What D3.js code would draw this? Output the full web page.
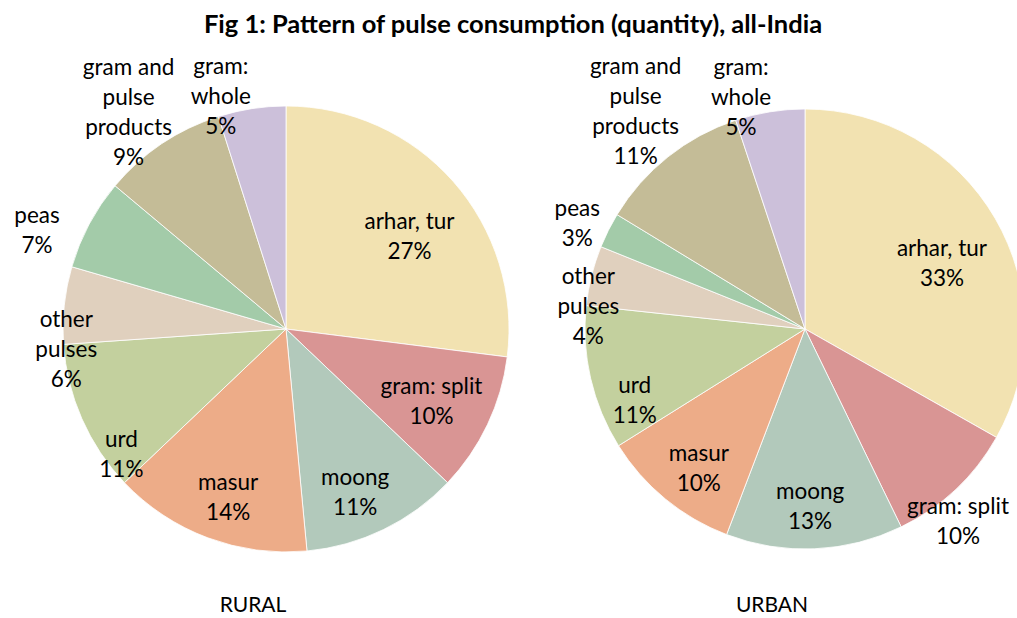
<!DOCTYPE html>
<html>
<head>
<meta charset="utf-8">
<script src="https://cdn.jsdelivr.net/npm/d3@7"></script>
<style>
  body { margin: 0; background: #fff; }
  svg text { font-family: Lato, "Open Sans", sans-serif; fill: #000; }
</style>
</head>
<body>
<div id="chart"></div>
<script>
// pulse categories, in slice order (clockwise from 12 o'clock)
var categories = ['arhar, tur', 'gram: split', 'moong', 'masur', 'urd',
	'other\npulses', 'peas', 'gram and\npulse\nproducts', 'gram:\nwhole']

// share of quantity, percent
var ruralValues = [27.0, 10.1, 11.4, 14.4, 11.0, 5.6, 6.6, 9.0, 4.9]
var urbanValues = [33.2, 9.6, 13.0, 10.3, 10.6, 4.4, 2.6, 11.2, 5.1]

var pieTitles = ['RURAL', 'URBAN']
var chartTitle = 'Fig 1: Pattern of pulse consumption (quantity), all-India'

var colors = ['#f2e2b1', '#d99594', '#b2c9bb', '#edac88', '#c3d09e',
	'#e0d0be', '#a3cba9', '#c4bc97', '#ccc0da']

// label placement: [degrees off the slice bisector, distance as share of radius]
var ruralLabelPos = [[4.8, 0.69], [1.3, 0.73], [3.1, 0.80], [-1.6, 0.80], [-13.7, 0.93],
	[-11.7, 0.99], [-6.6, 1.2], [-2.2, 1.2], [-6.9, 1.08]]
var urbanLabelPos = [[4.7, 0.69], [4.8, 1.12], [0.9, 0.81], [-2.3, 0.80], [-9.9, 0.84],
	[-8.2, 0.99], [-1.9, 1.14], [0.5, 1.25], [-6.3, 1.09]]

var width = 1017
var height = 618

var svg = d3.select('#chart').append('svg')
	.attr('width', width)
	.attr('height', height)

svg.append('text')
	.attr('x', 513)
	.attr('y', 33)
	.attr('text-anchor', 'middle')
	.style('font-weight', 'bold')
	.style('font-size', '25.5px')
	.text(chartTitle)

var pies = [
	{ values: ruralValues, cx: 286, cy: 329, r: 223, labels: ruralLabelPos, title: pieTitles[0] },
	{ values: urbanValues, cx: 805, cy: 329, r: 220, labels: urbanLabelPos, title: pieTitles[1] }
]

var pie = d3.pie().sort(null).value(function(d) { return d })

pies.forEach(function(p) {
	var g = svg.append('g')
		.attr('transform', 'translate(' + p.cx + ',' + p.cy + ')')

	var arc = d3.arc().innerRadius(0).outerRadius(p.r)
	var arcs = pie(p.values)

	g.selectAll('path')
		.data(arcs)
		.enter().append('path')
		.attr('d', arc)
		.attr('fill', function(d, i) { return colors[i] })
		.attr('stroke', '#fff')
		.attr('stroke-width', 0.8)

	var lineH = 30
	g.selectAll('text.lbl')
		.data(arcs)
		.enter().append('text')
		.attr('class', 'lbl')
		.attr('text-anchor', 'middle')
		.style('font-size', '22.5px')
		.each(function(d, i) {
			var lp = p.labels[i]
			var a = (d.startAngle + d.endAngle) / 2 + lp[0] * Math.PI / 180
			var dist = lp[1] * p.r
			var x = Math.sin(a) * dist
			var y = -Math.cos(a) * dist
			var lines = categories[i].split('\n')
			lines.push(Math.round(d.data) + '%')
			var top = y - (lines.length - 1) * lineH / 2 + 7
			var t = d3.select(this)
			lines.forEach(function(s, k) {
				t.append('tspan')
					.attr('x', x)
					.attr('y', top + k * lineH)
					.text(s)
			})
		})

	g.append('text')
		.attr('x', -33)
		.attr('y', 283)
		.attr('text-anchor', 'middle')
		.style('font-size', '21px')
		.text(p.title)
})
</script>
</body>
</html>
